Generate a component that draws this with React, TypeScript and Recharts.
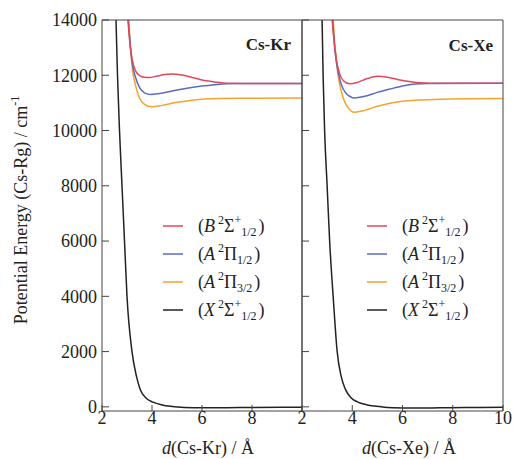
import React from 'react';
import { LineChart, Line, XAxis, YAxis } from 'recharts';

// energies in cm-1 vs distance in Angstrom
const krB = [[3.04, 14000], [3.1, 13300], [3.2, 12600], [3.35, 12150], [3.5, 11990], [3.7, 11930], [3.9, 11920], [4.2, 11970], [4.5, 12030], [4.8, 12050], [5.2, 12010], [5.6, 11920], [6.0, 11830], [6.5, 11760], [7.0, 11710], [8.0, 11700], [10, 11700]];
const krA12 = [[3.05, 14000], [3.12, 13200], [3.2, 12500], [3.35, 11900], [3.5, 11560], [3.7, 11360], [3.95, 11300], [4.3, 11340], [4.8, 11430], [5.4, 11530], [6.0, 11610], [6.5, 11660], [7.0, 11695], [8.0, 11700], [10, 11700]];
const krA32 = [[3.07, 14000], [3.14, 13000], [3.22, 12200], [3.35, 11600], [3.5, 11180], [3.7, 10950], [4.0, 10860], [4.4, 10910], [5.0, 11020], [5.6, 11100], [6.3, 11150], [7.5, 11170], [10, 11180]];
const krX = [[2.56, 14000], [2.62, 12000], [2.7, 10000], [2.8, 8000], [2.9, 6000], [3.0, 4000], [3.2, 2000], [3.38, 1100], [3.52, 650], [3.75, 330], [4.04, 170], [4.4, 70], [4.8, 15], [5.3, -20], [6.0, -35], [7.0, -30], [8.0, -20], [10, -10]];

const xeB = [[3.2, 14000], [3.28, 13200], [3.38, 12500], [3.5, 12050], [3.65, 11800], [3.9, 11690], [4.2, 11740], [4.6, 11880], [5.0, 11960], [5.4, 11930], [5.8, 11850], [6.2, 11780], [6.7, 11730], [7.5, 11710], [10, 11710]];
const xeA12 = [[3.22, 14000], [3.3, 13000], [3.4, 12300], [3.55, 11700], [3.75, 11350], [4.1, 11180], [4.5, 11240], [5.0, 11380], [5.5, 11500], [6.0, 11610], [6.5, 11680], [7.0, 11705], [10, 11710]];
const xeA32 = [[3.24, 14000], [3.32, 13000], [3.42, 12100], [3.55, 11450], [3.75, 10950], [4.1, 10660], [4.5, 10730], [5.0, 10880], [5.5, 10990], [6.0, 11060], [6.5, 11100], [7.5, 11130], [8.5, 11150], [10, 11160]];
const xeX = [[2.8, 14000], [2.84, 12000], [2.9, 10000], [3.0, 8000], [3.1, 6000], [3.24, 4000], [3.4, 2000], [3.56, 1100], [3.72, 650], [3.95, 330], [4.2, 180], [4.6, 70], [5.1, 10], [5.6, -30], [6.5, -45], [7.5, -35], [8.5, -25], [10, -15]];

const yTicks = [0, 2000, 4000, 6000, 8000, 10000, 12000, 14000];
const krXTicks = [2, 4, 6, 8];
const xeXTicks = [2, 4, 6, 8, 10];
const topTicks = [4, 6, 8];

const COLORS = { B: '#e2475b', A12: '#5b6cc0', A32: '#f4a330', X: '#222222' };
const FONT = '"Liberation Serif", "DejaVu Serif", serif';
const AXIS = '#444';

const toRows = (pts: number[][]) => pts.map(([d, e]) => ({ d, e }));

const tickStyle = { fontSize: 18, fill: '#222', fontFamily: FONT };
const blank = () => '';

function Curves({ sets }: { sets: { pts: number[][]; color: string }[] }) {
	return (
		<>
			{sets.map((s, i) => (
				<Line
					key={i}
					data={toRows(s.pts)}
					dataKey='e'
					type='monotone'
					stroke={s.color}
					strokeWidth={1.5}
					dot={false}
					activeDot={false}
					isAnimationActive={false}
				/>
			))}
		</>
	);
}

function LegendRow({ x, y, color, sym, name, sup, sub }: { x: number; y: number; color: string; sym: string; name: string; sup?: string; sub: string }) {
	return (
		<g>
			<line x1={x} x2={x + 20} y1={y - 6} y2={y - 6} stroke={color} strokeWidth={1.5} />
			<text x={x + 35} y={y} fontSize={18} fontFamily={FONT} fill='#222'>
				<tspan>(</tspan>
				<tspan fontStyle='italic'>{sym}</tspan>
				<tspan dx={3} dy={-8} fontSize={12}>2</tspan>
				<tspan dy={8}>{name}</tspan>
				{sup ? <tspan dy={-8} fontSize={12}>{sup}</tspan> : null}
				<tspan dy={sup ? 12 : 4} fontSize={12}>{sub}</tspan>
				<tspan dx={2} dy={-4}>)</tspan>
			</text>
		</g>
	);
}

function Legend({ x }: { x: number }) {
	return (
		<>
			<LegendRow x={x} y={232} color={COLORS.B} sym='B' name='Σ' sup='+' sub='1/2' />
			<LegendRow x={x} y={260} color={COLORS.A12} sym='A' name='Π' sub='1/2' />
			<LegendRow x={x} y={288} color={COLORS.A32} sym='A' name='Π' sub='3/2' />
			<LegendRow x={x} y={316} color={COLORS.X} sym='X' name='Σ' sup='+' sub='1/2' />
		</>
	);
}

export default function App() {
	const yDomain: [number, number] = [-150, 14000];
	return (
		<div style={{ position: 'absolute', left: 0, top: 0, width: 513, height: 459, background: '#fff' }}>
			<div style={{ position: 'absolute', left: 0, top: 0 }}>
				<LineChart width={303} height={459} margin={{ top: 19, right: 0, bottom: 0, left: 0 }}>
					<XAxis dataKey='d' type='number' domain={[2, 10]} allowDataOverflow ticks={krXTicks} interval={0} height={48} stroke={AXIS} tickSize={-6} tickMargin={6} tick={tickStyle} />
					<XAxis xAxisId='top' orientation='top' type='number' domain={[2, 10]} ticks={topTicks} interval={0} height={1} stroke={AXIS} tickSize={-6} tickFormatter={blank} />
					<YAxis type='number' domain={yDomain} allowDataOverflow ticks={yTicks} interval={0} width={102} stroke={AXIS} tickSize={-7} tickMargin={12} tick={tickStyle} />
					<YAxis yAxisId='r' orientation='right' type='number' domain={yDomain} ticks={yTicks} interval={0} width={1} stroke={AXIS} tickSize={-7} tickFormatter={blank} />
					{Curves({ sets: [
						{ pts: krX, color: COLORS.X },
						{ pts: krA32, color: COLORS.A32 },
						{ pts: krA12, color: COLORS.A12 },
						{ pts: krB, color: COLORS.B },
					] })}
				</LineChart>
			</div>
			<div style={{ position: 'absolute', left: 291, top: 0 }}>
				<LineChart width={223} height={459} margin={{ top: 19, right: 10, bottom: 0, left: 10 }}>
					<XAxis dataKey='d' type='number' domain={[2, 10]} allowDataOverflow ticks={xeXTicks} interval={0} height={48} stroke={AXIS} tickSize={-6} tickMargin={6} tick={tickStyle} />
					<XAxis xAxisId='top' orientation='top' type='number' domain={[2, 10]} ticks={topTicks} interval={0} height={1} stroke={AXIS} tickSize={-6} tickFormatter={blank} />
					<YAxis type='number' domain={yDomain} allowDataOverflow ticks={yTicks} interval={0} width={1} stroke={AXIS} tickSize={-7} tickFormatter={blank} />
					<YAxis yAxisId='r' orientation='right' type='number' domain={yDomain} ticks={yTicks} interval={0} width={1} stroke={AXIS} tickSize={-7} tickFormatter={blank} />
					{Curves({ sets: [
						{ pts: xeX, color: COLORS.X },
						{ pts: xeA32, color: COLORS.A32 },
						{ pts: xeA12, color: COLORS.A12 },
						{ pts: xeB, color: COLORS.B },
					] })}
				</LineChart>
			</div>
			<svg width={513} height={459} style={{ position: 'absolute', left: 0, top: 0, pointerEvents: 'none' }}>
				<text x={291} y={50} textAnchor='end' fontSize={17} fontWeight='bold' fontFamily={FONT} fill='#222'>Cs-Kr</text>
				<text x={493} y={51} textAnchor='end' fontSize={17} fontWeight='bold' fontFamily={FONT} fill='#222'>Cs-Xe</text>
				<Legend x={163} />
				<Legend x={367} />
				<text transform='rotate(-90)' x={-210} y={27} textAnchor='middle' fontSize={18} fontFamily={FONT} fill='#222'>
					Potential Energy (Cs-Rg) / cm<tspan dy={-8} fontSize={12}>-1</tspan>
				</text>
				<text x={208} y={454} textAnchor='middle' fontSize={18} fontFamily={FONT} fill='#222'>
					<tspan fontStyle='italic'>d</tspan>(Cs-Kr) / Å
				</text>
				<text x={409} y={454} textAnchor='middle' fontSize={18} fontFamily={FONT} fill='#222'>
					<tspan fontStyle='italic'>d</tspan>(Cs-Xe) / Å
				</text>
			</svg>
		</div>
	);
}
